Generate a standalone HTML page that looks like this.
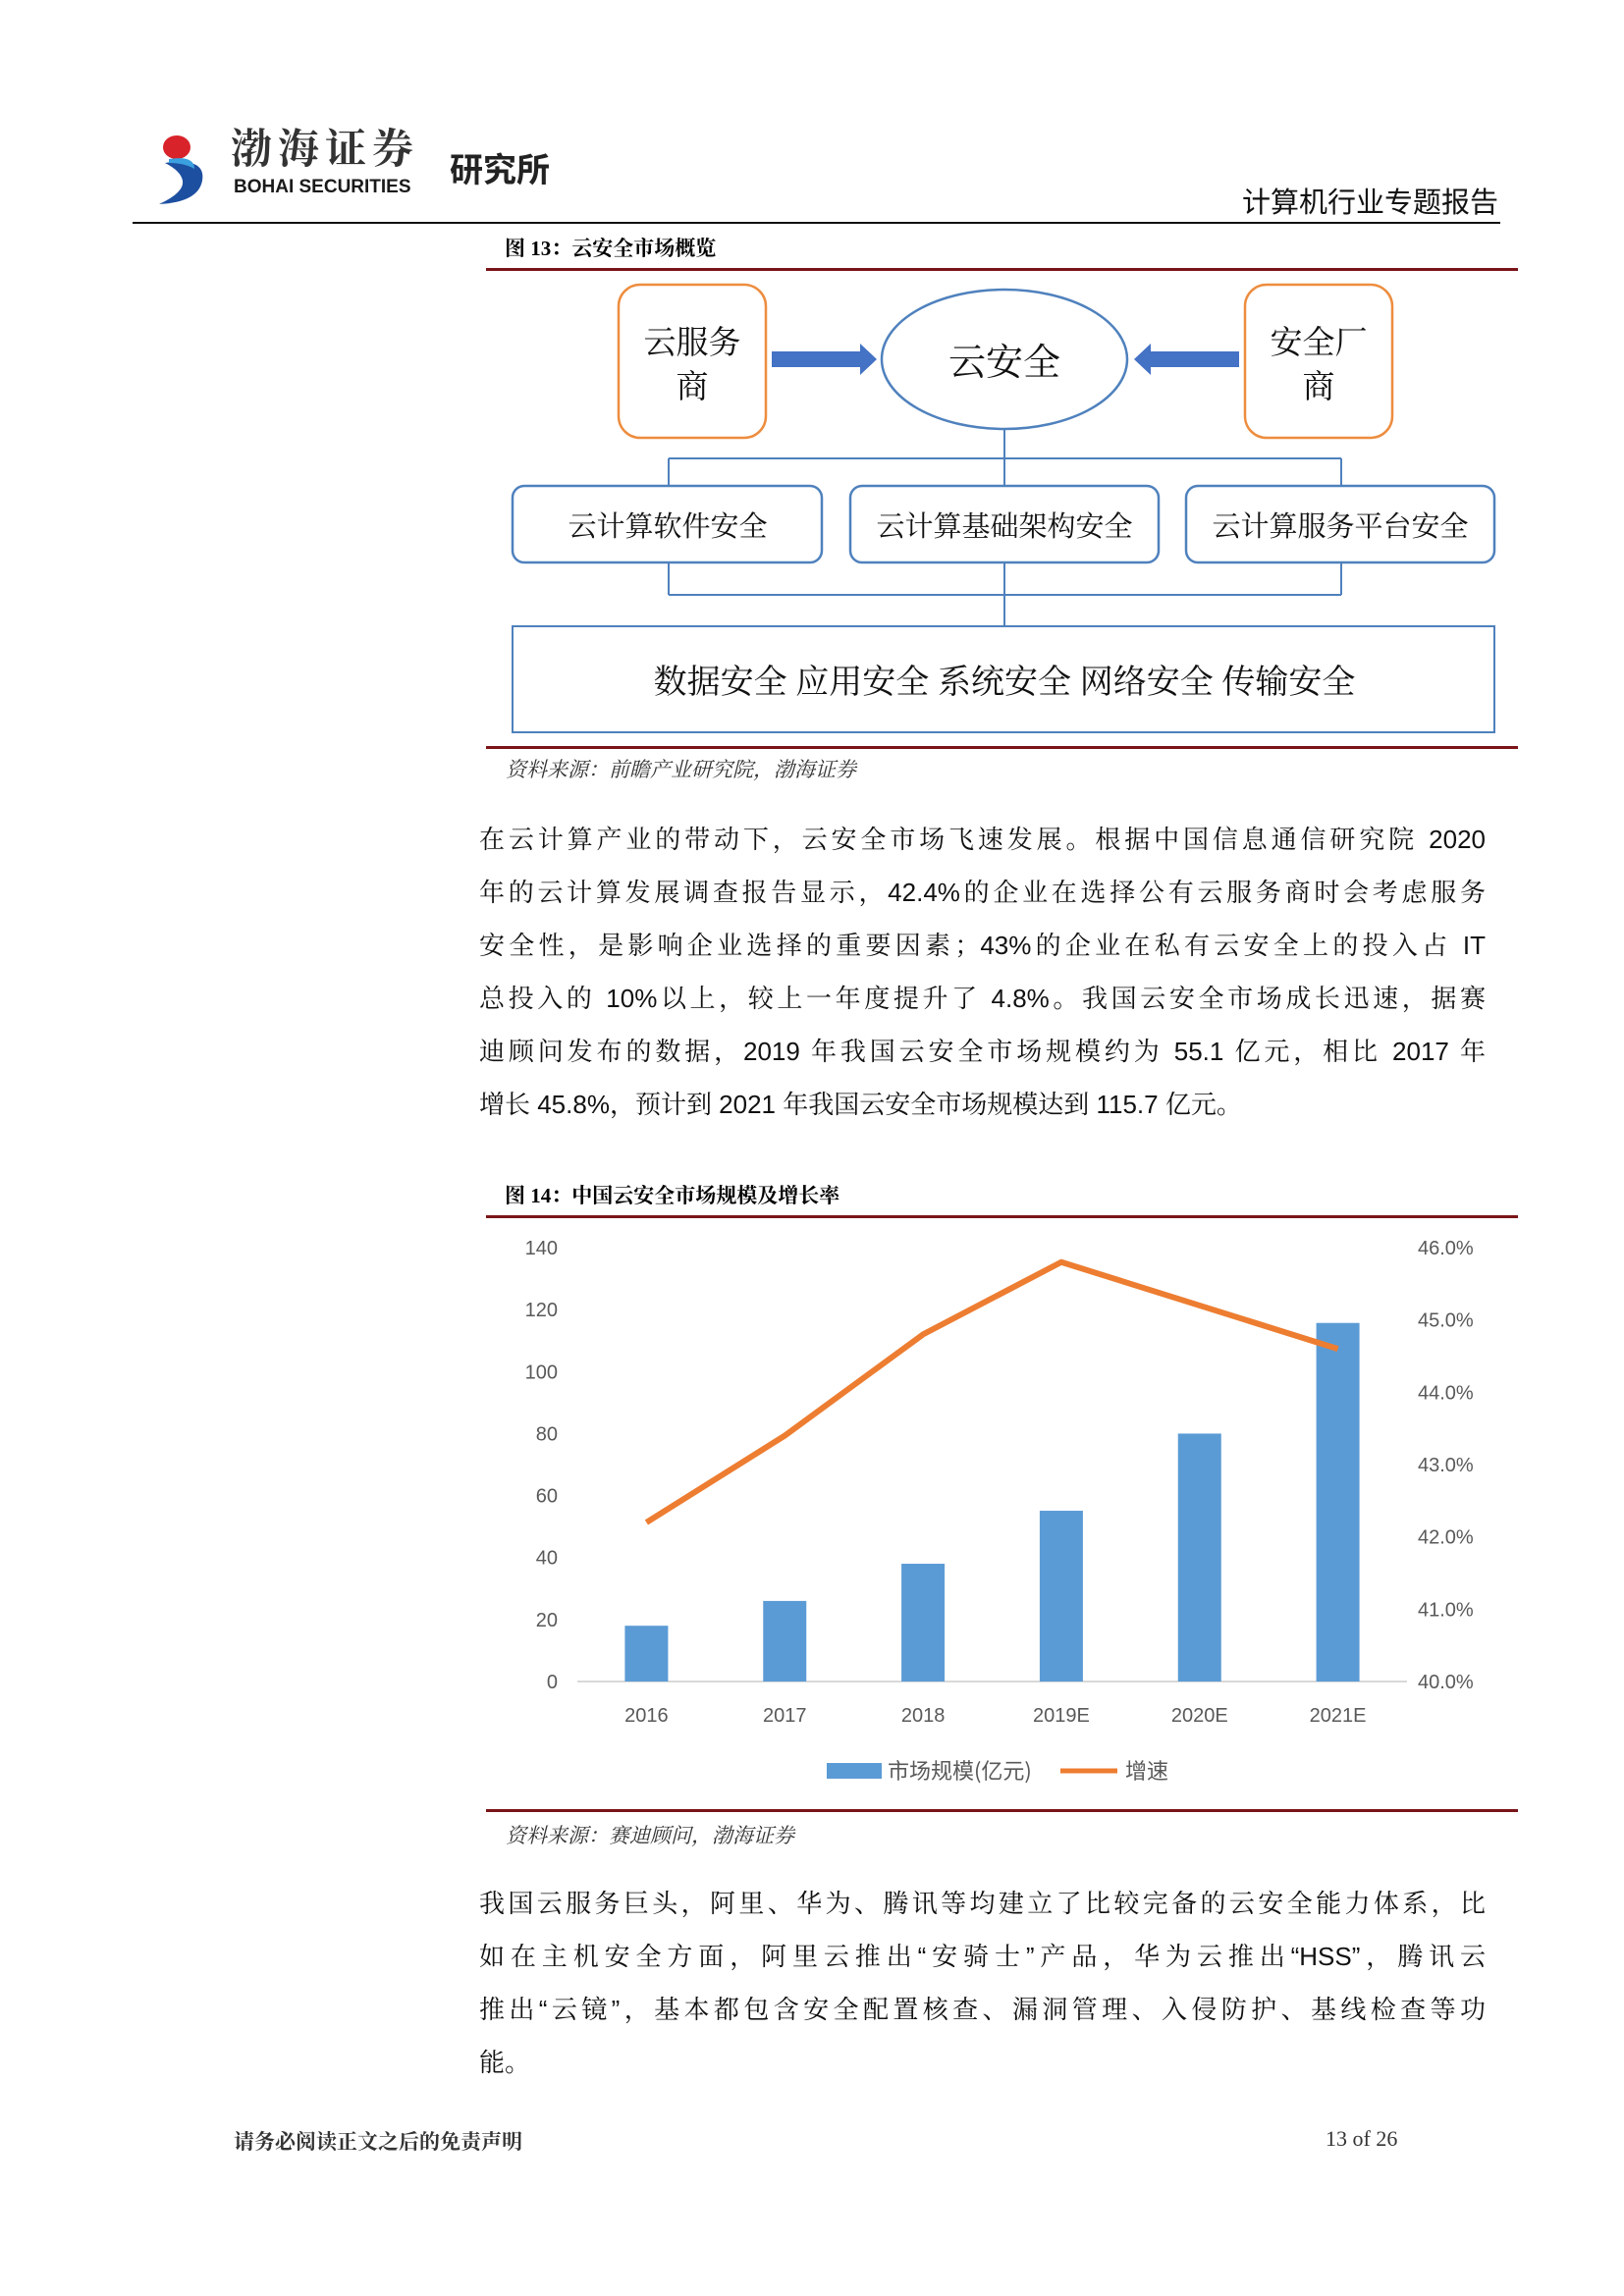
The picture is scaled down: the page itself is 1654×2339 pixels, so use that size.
<!DOCTYPE html>
<html><head><meta charset="utf-8">
<style>
body{margin:0;width:1654px;height:2339px;background:#fff;position:relative;overflow:hidden;font-family:"Liberation Serif","Noto Serif CJK SC",serif;}
.a{position:absolute;white-space:nowrap;}
.l{position:absolute;left:488px;width:1025px;height:54px;font-size:26px;line-height:54px;color:#111;text-align:justify;text-align-last:justify;white-space:nowrap;font-family:"Liberation Sans","Noto Serif CJK SC",serif;}
.n{text-align-last:left;}
</style></head><body>
<div class="a" style="left:158px;top:132px;width:60px;height:78px;">
<svg width="60" height="78"><ellipse cx="22" cy="18" rx="14" ry="12" fill="#d8232a"/><path d="M10 34 Q52 28 48 52 Q44 74 4 76 Q30 64 28 52 Q26 42 10 34Z" fill="#1d4fa0"/><path d="M14 30 Q40 26 40 40 Q30 34 14 34Z" fill="#3aa0e0"/></svg></div>
<div class="a" style="left:235px;top:124px;font-size:42px;line-height:50px;font-weight:bold;color:#333;letter-spacing:6px;font-family:'Noto Serif CJK SC',serif;">渤海证券</div>
<div class="a" style="left:238px;top:180px;font-size:19px;line-height:22px;font-weight:bold;color:#1a1a1a;font-family:'Liberation Sans',sans-serif;">BOHAI SECURITIES</div>
<div class="a" style="left:458px;top:146px;font-size:34px;font-weight:bold;color:#222;font-family:'Noto Sans CJK SC',sans-serif;">研究所</div>
<div class="a" style="right:128px;top:183px;font-size:29px;color:#111;font-family:'Noto Sans CJK SC',sans-serif;">计算机行业专题报告</div>
<div class="a" style="left:135px;top:226px;width:1393px;height:2px;background:#111;"></div>

<div class="a" style="left:514px;top:237px;font-size:21px;font-weight:bold;">图 13：云安全市场概览</div>
<div class="a" style="left:495px;top:273px;width:1051px;height:3px;background:#7a1418;"></div>
<svg class="a" style="left:0;top:0" width="1654" height="800">
<g fill="none" stroke="#4f81bd" stroke-width="2">
<line x1="1023" y1="437" x2="1023" y2="638"/><line x1="681" y1="467" x2="1366" y2="467"/><line x1="681" y1="467" x2="681" y2="495"/><line x1="1366" y1="467" x2="1366" y2="495"/>
<line x1="681" y1="573" x2="681" y2="606"/><line x1="1366" y1="573" x2="1366" y2="606"/><line x1="681" y1="606" x2="1366" y2="606"/>
<rect x="522" y="495" width="315" height="78" rx="12" stroke-width="2.5" fill="#fff"/><rect x="866" y="495" width="314" height="78" rx="12" stroke-width="2.5" fill="#fff"/><rect x="1208" y="495" width="314" height="78" rx="12" stroke-width="2.5" fill="#fff"/>
<rect x="522" y="638" width="1000" height="108" stroke-width="2" fill="#fff"/>
<ellipse cx="1023" cy="366" rx="125" ry="71" fill="#fff" stroke-width="2.5"/>
</g>
<rect x="630" y="290" width="150" height="156" rx="22" fill="none" stroke="#ed8d3f" stroke-width="2.5"/>
<rect x="1268" y="290" width="150" height="156" rx="22" fill="none" stroke="#ed8d3f" stroke-width="2.5"/>
<polygon points="786,358 876,358 876,350 893,366 876,382 876,374 786,374" fill="#4472c4"/>
<polygon points="1262,358 1172,358 1172,350 1155,366 1172,382 1172,374 1262,374" fill="#4472c4"/>
<g font-family="Noto Serif CJK SC,serif" fill="#111" text-anchor="middle">
<text x="705" y="360" font-size="33">云服务</text><text x="705" y="405" font-size="33">商</text>
<text x="1343" y="360" font-size="33">安全厂</text><text x="1343" y="405" font-size="33">商</text>
<text x="1023" y="382" font-size="38">云安全</text>
<text x="680" y="546" font-size="29">云计算软件安全</text><text x="1023" y="546" font-size="29">云计算基础架构安全</text><text x="1365" y="546" font-size="29">云计算服务平台安全</text>
<text x="1023" y="706" font-size="34">数据安全 应用安全 系统安全 网络安全 传输安全</text>
</g></svg>
<div class="a" style="left:495px;top:760px;width:1051px;height:3px;background:#7a1418;"></div>
<div class="a" style="left:515px;top:768px;font-size:21px;font-style:italic;color:#333;">资料来源：前瞻产业研究院，渤海证券</div>

<div>
<div class="l" style="top:828px;">在云计算产业的带动下，云安全市场飞速发展。根据中国信息通信研究院 2020</div>
<div class="l" style="top:882px;">年的云计算发展调查报告显示，42.4%的企业在选择公有云服务商时会考虑服务</div>
<div class="l" style="top:936px;">安全性，是影响企业选择的重要因素；43%的企业在私有云安全上的投入占 IT</div>
<div class="l" style="top:990px;">总投入的 10%以上，较上一年度提升了 4.8%。我国云安全市场成长迅速，据赛</div>
<div class="l" style="top:1044px;">迪顾问发布的数据，2019 年我国云安全市场规模约为 55.1 亿元，相比 2017 年</div>
<div class="l n" style="top:1098px;">增长 45.8%，预计到 2021 年我国云安全市场规模达到 115.7 亿元。</div>
</div>

<div class="a" style="left:514px;top:1202px;font-size:21px;font-weight:bold;">图 14：中国云安全市场规模及增长率</div>
<div class="a" style="left:495px;top:1238px;width:1051px;height:3px;background:#7a1418;"></div>
<svg id="chart" class="a" style="left:0;top:0" width="1654" height="1900"></svg>
<div class="a" style="left:495px;top:1843px;width:1051px;height:3px;background:#7a1418;"></div>
<div class="a" style="left:515px;top:1854px;font-size:21px;font-style:italic;color:#333;">资料来源：赛迪顾问，渤海证券</div>

<div>
<div class="l" style="top:1912px;">我国云服务巨头，阿里、华为、腾讯等均建立了比较完备的云安全能力体系，比</div>
<div class="l" style="top:1966px;">如在主机安全方面，阿里云推出“安骑士”产品，华为云推出“HSS”，腾讯云</div>
<div class="l" style="top:2020px;">推出“云镜”，基本都包含安全配置核查、漏洞管理、入侵防护、基线检查等功</div>
<div class="l n" style="top:2074px;">能。</div>
</div>

<div class="a" style="left:238px;top:2166px;font-size:21px;font-weight:bold;color:#333;">请务必阅读正文之后的免责声明</div>
<div class="a" style="left:1350px;top:2166px;font-size:22px;color:#333;">13 of 26</div>

<script>
const categories=["2016","2017","2018","2019E","2020E","2021E"];
const marketSize=[18,26,38,55.1,80,115.7];
const growthRate=[42.2,43.4,44.8,45.8,45.2,44.6];
const leftTicks=[0,20,40,60,80,100,120,140];
const rightTicks=[40,41,42,43,44,45,46];
const NS="http://www.w3.org/2000/svg";
const svg=document.getElementById('chart');
const X0=588,X1=1433,Y0=1713,Y1=1271;
const xC=i=>X0+(X1-X0)*(i+0.5)/categories.length;
const yL=v=>Y0-(v/140)*(Y0-Y1);
const yR=v=>Y0-((v-40)/6)*(Y0-Y1);
function mk(t,a){const e=document.createElementNS(NS,t);for(const k in a)e.setAttribute(k,a[k]);svg.appendChild(e);return e;}
const ax=mk('line',{x1:X0,x2:X1,y1:Y0,y2:Y0,stroke:'#d9d9d9','stroke-width':2});


leftTicks.forEach(v=>{const t=mk('text',{x:568,y:yL(v)+7,'text-anchor':'end','font-size':20,fill:'#595959','font-family':'Liberation Sans,sans-serif'});t.textContent=v;

});
rightTicks.forEach(v=>{const t=mk('text',{x:1444,y:yR(v)+7,'font-size':20,fill:'#595959','font-family':'Liberation Sans,sans-serif'});t.textContent=v.toFixed(1)+'%';

});
categories.forEach((c,i)=>{const b=mk('rect',{x:xC(i)-22,y:yL(marketSize[i]),width:44,height:Y0-yL(marketSize[i]),fill:'#5b9bd5'});


const t=mk('text',{x:xC(i),y:1754,'text-anchor':'middle','font-size':20,fill:'#595959','font-family':'Liberation Sans,sans-serif'});t.textContent=c;

});
const ln=mk('polyline',{points:growthRate.map((v,i)=>xC(i)+','+yR(v)).join(' '),fill:'none',stroke:'#ed7d31','stroke-width':6,'stroke-linejoin':'round'});


const lb=mk('rect',{x:842,y:1796,width:56,height:16,fill:'#5b9bd5'});


const lt=mk('text',{x:904,y:1812,'font-size':22,fill:'#595959','font-family':'Noto Sans CJK SC,sans-serif'});lt.textContent='市场规模(亿元)';


const ll=mk('line',{x1:1080,x2:1138,y1:1804,y2:1804,stroke:'#ed7d31','stroke-width':5});


const lt2=mk('text',{x:1146,y:1812,'font-size':22,fill:'#595959','font-family':'Noto Sans CJK SC,sans-serif'});lt2.textContent='增速';


</script>
</body></html>
